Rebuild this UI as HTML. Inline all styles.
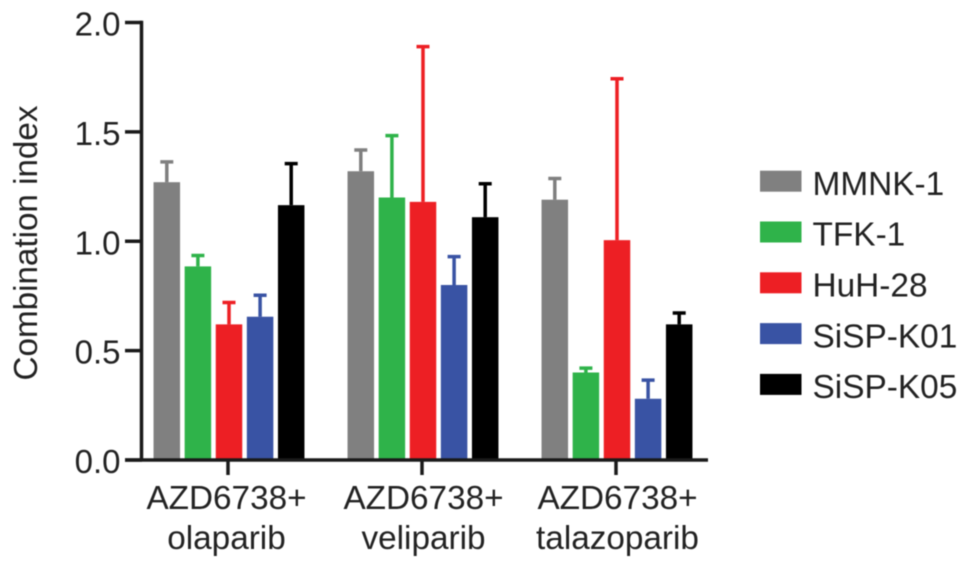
<!DOCTYPE html>
<html>
<head>
<meta charset="utf-8">
<style>
html,body{margin:0;padding:0;background:#fff;width:969px;height:570px;overflow:hidden}
svg{display:block;font-family:"Liberation Sans",Arial,sans-serif;fill:#222;filter:blur(0.5px)}
</style>
</head>
<body>
<svg id="chart" width="969" height="570" viewBox="0 0 969 570" xmlns="http://www.w3.org/2000/svg"></svg>
<script>
const groups = [["AZD6738+","olaparib"],["AZD6738+","veliparib"],["AZD6738+","talazoparib"]];
const seriesNames = ["MMNK-1","TFK-1","HuH-28","SiSP-K01","SiSP-K05"];
const seriesColors = ["#808080","#2fb34a","#ed1f24","#3953a4","#000000"];
const mmnk1 = [1.27,1.32,1.19];
const tfk1 = [0.885,1.20,0.40];
const huh28 = [0.62,1.18,1.005];
const sispk01 = [0.655,0.80,0.28];
const sispk05 = [1.165,1.11,0.62];
const mmnk1Err = [0.093,0.097,0.097];
const tfk1Err = [0.05,0.283,0.02];
const huh28Err = [0.10,0.71,0.738];
const sispk01Err = [0.098,0.13,0.085];
const sispk05Err = [0.19,0.153,0.052];
const yTicks = ["0.0","0.5","1.0","1.5","2.0"];

const seriesValues = [mmnk1,tfk1,huh28,sispk01,sispk05];
const seriesErrors = [mmnk1Err,tfk1Err,huh28Err,sispk01Err,sispk05Err];
const svg = document.getElementById('chart');
const NS = 'http://www.w3.org/2000/svg';
function mk(tag, attrs, parent){
  const e = document.createElementNS(NS, tag);
  for (const k in attrs) e.setAttribute(k, attrs[k]);
  (parent || svg).appendChild(e);
  return e;
}
const y = v => 460 - v * 218.75;
const groupX = i => 229 + i * 194;
const tickX = i => groupX(i) - 1;
const labelX = i => groupX(i) + (i === 0 ? -2.5 : 0.5);
const barX = (g, s) => groupX(g) + (s - 2) * 31.1;
const barW = 26.5;

seriesValues.forEach((vals, s) => {
  vals.forEach((v, g) => {
    const cx = barX(g, s);
    const top = y(v + seriesErrors[s][g]);
    const err = mk('path', {d:`M${cx} ${y(v)}V${top}M${cx-6.5} ${top}H${cx+6.5}`, fill:'none', stroke:seriesColors[s], 'stroke-width':3.5});
    
    
    const bar = mk('rect', {x:cx-barW/2, y:y(v), width:barW, height:460-y(v), fill:seriesColors[s]});
    
    
  });
});

const yAxis = mk('line', {x1:141.5, x2:141.5, y1:20.7, y2:461.5, stroke:'#1a1a1a', 'stroke-width':3.5});


const xAxis = mk('line', {x1:125, x2:708, y1:460, y2:460, stroke:'#1a1a1a', 'stroke-width':3.5});



yTicks.forEach(t => {
  const v = parseFloat(t);
  const tick = mk('line', {x1:125, x2:142, y1:y(v), y2:y(v), stroke:'#1a1a1a', 'stroke-width':3.5});
  
  
  const label = mk('text', {x:120.5, y:y(v)+13, 'text-anchor':'end', 'font-size':33});
  label.textContent = t;
  
  
});

groups.forEach((lines, i) => {
  const tick = mk('line', {x1:tickX(i), x2:tickX(i), y1:460, y2:475, stroke:'#1a1a1a', 'stroke-width':3.5});
  
  
  lines.forEach((line, j) => {
    const label = mk('text', {x:labelX(i), y:509 + j * 40, 'text-anchor':'middle', 'font-size':33.3});
    label.textContent = line;
    
    
  });
});

const yTitle = mk('text', {transform:'translate(37 243) rotate(-90)', 'text-anchor':'middle', 'font-size':33.2});
yTitle.textContent = 'Combination index';



seriesNames.forEach((name, s) => {
  const ly = 181.2 + s * 50.8;
  const swatch = mk('rect', {x:760, y:ly-10.5, width:41.5, height:21, fill:seriesColors[s]});
  
  
  const label = mk('text', {x:812.5, y:ly+13.7, 'font-size':33.4});
  label.textContent = name;
  
  
});
</script>
</body>
</html>
